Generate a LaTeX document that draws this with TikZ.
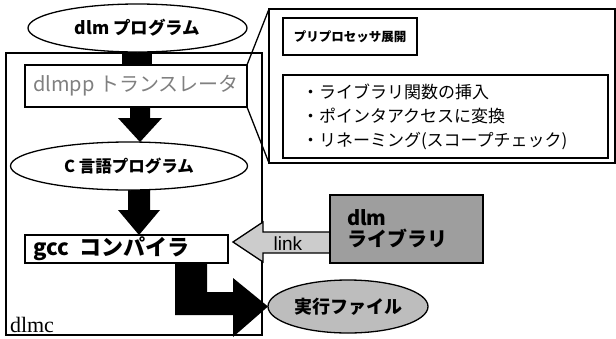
\documentclass[tikz,border=0pt]{standalone}
\usepackage{fontspec}
\setmainfont{Liberation Serif}
\newfontfamily\jp{Noto Sans CJK JP}
\newfontfamily\arl{Liberation Sans}
\usetikzlibrary{shapes.geometric,backgrounds,calc}
\definecolor{linkgray}{gray}{0.80}
\definecolor{libgray}{gray}{0.62}
\definecolor{exegray}{gray}{0.74}
\begin{document}
\begin{tikzpicture}[x=1pt,y=-1pt,
  every node/.style={inner sep=0pt, outer sep=0pt},
  ln/.style={line width=1.3pt},
  ell/.style={ellipse, draw, ln, fill=white},
  box/.style={rectangle, draw, ln, fill=white},
  blk/.style={fill=black}]
\useasboundingbox (0,0) rectangle (616,338);

% outer dlmc frame
\node[box, fill=none, minimum width=256, minimum height=282] (dlmc) at (134,194) {};
\node[anchor=base west, font=\fontsize{22}{24}\selectfont] (dlmclabel) at (10,332) {dlmc};

% main flow nodes
\node[ell, minimum width=219, minimum height=48, font=\jp\bfseries\fontsize{17.5}{19}\selectfont] (src) at (137.5,28)
  {dlm プログラム};
\node[box, minimum width=222, minimum height=42, text=gray, font=\jp\fontsize{20}{22}\selectfont] (trans) at (136,86)
  {dlmpp トランスレータ};
\node[ell, minimum width=237, minimum height=48, font=\jp\bfseries\fontsize{16.5}{18}\selectfont] (cprog) at (129,166)
  {C 言語プログラム};
\node[box, minimum height=28, text width=187pt, inner xsep=8pt, align=left, font=\jp\bfseries\fontsize{22}{23}\selectfont] (gcc) at (126.5,249)
  {gcc\hspace{0.5em}コンパイラ};
\node[ell, fill=exegray, minimum width=160, minimum height=53, font=\jp\bfseries\fontsize{18}{20}\selectfont] (exe) at (348,306.5)
  {実行ファイル};

% block arrows (behind the nodes)
\begin{scope}[on background layer]
  \fill[blk] (122,0 |- src.center) rectangle (152,0 |- trans.center);
  \fill[blk] (130,0 |- trans.center) -- (130,118) -- (118,118) -- (140,0 |- cprog.north)
     -- (162,118) -- (150,118) -- (150,0 |- trans.center) -- cycle;
  \fill[blk] (128,0 |- cprog.center) -- (128,210) -- (118,210) -- (139,0 |- gcc.north)
     -- (160,210) -- (150,210) -- (150,0 |- cprog.center) -- cycle;
  \fill[blk] (175,0 |- gcc.center) -- (175,315) -- (233,315) -- (233,337) -- (exe.west)
     -- (233,278) -- (233,292) -- (207,292) -- (207,0 |- gcc.center) -- cycle;
\end{scope}

% link arrow and library
\draw[ln, fill=linkgray] (340,232) -- (263,232) -- (263,222) -- ($(gcc.east)+(5,-7)$)
   -- (263,262) -- (263,253) -- (340,253);
\node[anchor=center, font=\arl\fontsize{19}{20}\selectfont] (linklbl) at (288,243.5) {link};
\node[box, fill=libgray, minimum height=68, text width=119pt, inner xsep=17pt, align=left,
      font=\jp\bfseries\fontsize{20}{21}\selectfont] (lib) at (406.5,229)
  {dlm\\ライブラリ};

% callout
\node[box, minimum width=346, minimum height=154] (call) at (442,86) {};
\node[box, minimum width=134, minimum height=37, font=\jp\bfseries\fontsize{12.5}{15}\selectfont] (pre) at (350,36.5)
  {プリプロセッサ展開};
\node[box, minimum height=83, text width=287pt, inner xsep=19pt, align=left,
      font=\jp\fontsize{17}{24}\selectfont] (items) at (445.5,116.5)
  {\rule{0pt}{0pt}・ライブラリ関数の挿入\\・ポインタアクセスに変換\\・リネーミング(スコープチェック)};
\draw[ln] (trans.north east) -- (call.north west);
\draw[ln] (trans.south east) -- (call.south west);
\end{tikzpicture}
\end{document}
